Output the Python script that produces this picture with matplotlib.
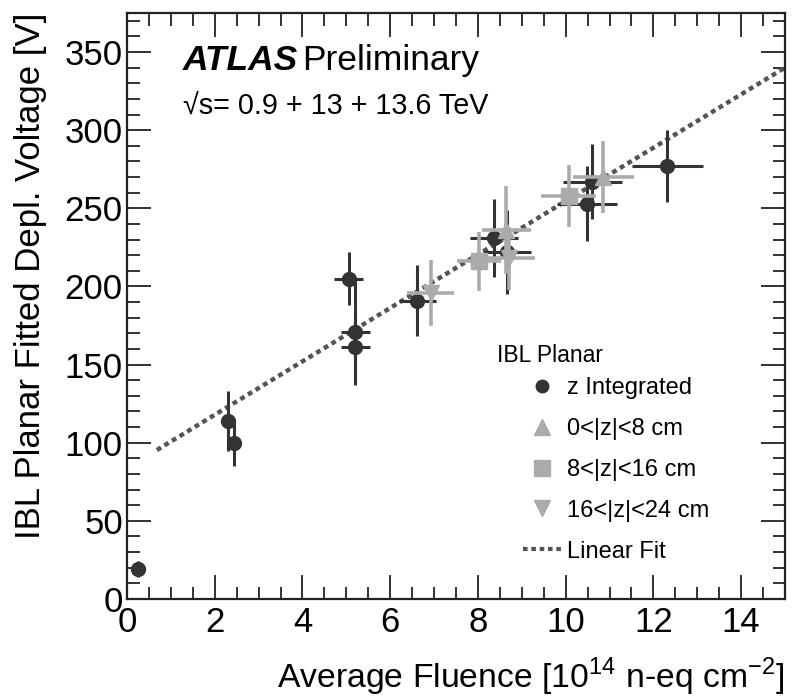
import matplotlib
matplotlib.use("Agg")
import matplotlib.pyplot as plt
from matplotlib.ticker import MultipleLocator
from matplotlib.lines import Line2D
import numpy as np

plt.rcParams['font.family'] = ['Liberation Sans', 'DejaVu Sans']
plt.rcParams['mathtext.fontset'] = 'custom'
plt.rcParams['mathtext.rm'] = 'Liberation Sans'

# z integrated (dark circles)
zi_x = [0.25, 2.30, 2.45, 5.05, 5.20, 5.20, 6.62, 8.36, 8.67, 10.48, 10.61, 12.32]
zi_y = [19, 114, 100, 205, 171, 161, 191, 231, 222, 253, 267, 277]
zi_xerr = [0.0, 0.0, 0.0, 0.33, 0.33, 0.33, 0.42, 0.55, 0.55, 0.68, 0.68, 0.80]
zi_yerr = [5, 19, 15, 17, 34, 23, 23, 25, 27, 24, 24, 23]

# 0<|z|<8 cm (up triangles)
z1_x = [8.65, 10.86]
z1_y = [236, 270]
z1_xerr = [0.55, 0.70]
z1_yerr = [28, 23]

# 8<|z|<16 cm (squares)
z2_x = [8.02, 10.07]
z2_y = [216, 258]
z2_xerr = [0.50, 0.63]
z2_yerr = [19, 20]

# 16<|z|<24 cm (down triangles)
z3_x = [6.92, 8.70]
z3_y = [196, 218]
z3_xerr = [0.53, 0.60]
z3_yerr = [21, 20]

# linear fit parameters
fit_slope = 17.09
fit_intercept = 83.7
fit_xrange = [0.68, 15.0]

dark = '#333333'
grey = '#ababab'

fig = plt.figure(figsize=(7.92, 7.0), dpi=100)
ax = fig.add_axes([127/792, 1 - 599/700, (785-127)/792, (599-13)/700])

xf = np.array(fit_xrange)
ax.plot(xf, fit_intercept + fit_slope * xf, color='#555555', lw=3.2,
        linestyle=(0, (1.1, 0.9)), zorder=2)

ax.errorbar(zi_x, zi_y, xerr=zi_xerr, yerr=zi_yerr, fmt='o', color=dark,
            ms=10, elinewidth=2.2, capsize=0, zorder=3)
ax.errorbar(z1_x, z1_y, xerr=z1_xerr, yerr=z1_yerr, fmt='^', color=grey,
            ms=11, elinewidth=2.6, capsize=0, zorder=4)
ax.errorbar(z2_x, z2_y, xerr=z2_xerr, yerr=z2_yerr, fmt='s', color=grey,
            ms=11, elinewidth=2.6, capsize=0, zorder=4)
ax.errorbar(z3_x, z3_y, xerr=z3_xerr, yerr=z3_yerr, fmt='v', color=grey,
            ms=11, elinewidth=2.6, capsize=0, zorder=4)

ax.set_xlim(0, 15)
ax.set_ylim(0, 375)
ax.xaxis.set_major_locator(MultipleLocator(2))
ax.xaxis.set_minor_locator(MultipleLocator(0.5))
ax.yaxis.set_major_locator(MultipleLocator(50))
ax.yaxis.set_minor_locator(MultipleLocator(10))
ax.tick_params(which='both', direction='in', top=True, right=True,
               labelsize=25, width=1.3, color='#222222')
ax.tick_params(which='major', length=17)
ax.tick_params(which='minor', length=9)
ax.tick_params(axis='x', pad=5)
ax.tick_params(axis='y', pad=3)
for s in ax.spines.values():
    s.set_linewidth(1.6)
    s.set_color('#222222')

ax.set_xlabel('Average Fluence [10$^{14}$ n-eq cm$^{-2}$]', fontsize=24.3,
              loc='right', labelpad=12)
ax.set_ylabel('IBL Planar Fitted Depl. Voltage [V]', fontsize=25,
              loc='top', labelpad=13)

ax.text(0.085, 0.902, 'ATLAS', transform=ax.transAxes, fontsize=25.5,
        fontweight='bold', fontstyle='italic', va='baseline')
ax.text(0.266, 0.902, 'Preliminary', transform=ax.transAxes, fontsize=25.5,
        va='baseline')
ax.text(0.085, 0.828, '\u221as= 0.9 + 13 + 13.6 TeV', transform=ax.transAxes,
        fontsize=20.7, va='baseline')

ax.text((497-127)/658, (599-362)/586, 'IBL Planar', transform=ax.transAxes,
        fontsize=16.5, va='baseline')

handles = [
    Line2D([], [], marker='o', color=dark, ls='none', ms=9),
    Line2D([], [], marker='^', color=grey, ls='none', ms=12),
    Line2D([], [], marker='s', color=grey, ls='none', ms=12),
    Line2D([], [], marker='v', color=grey, ls='none', ms=12),
    Line2D([], [], color='#555555', lw=3, linestyle=(0, (1.1, 0.9))),
]
labels = ['z Integrated', '0<|z|<8 cm', '8<|z|<16 cm', '16<|z|<24 cm', 'Linear Fit']
ax.legend(handles, labels, loc='upper left',
          bbox_to_anchor=((523-127)/658, (599-377)/586), frameon=False,
          fontsize=17, handlelength=1.6, handletextpad=0.25, labelspacing=0.8,
          borderpad=0, borderaxespad=0)

fig.savefig('out.png', dpi=100)
